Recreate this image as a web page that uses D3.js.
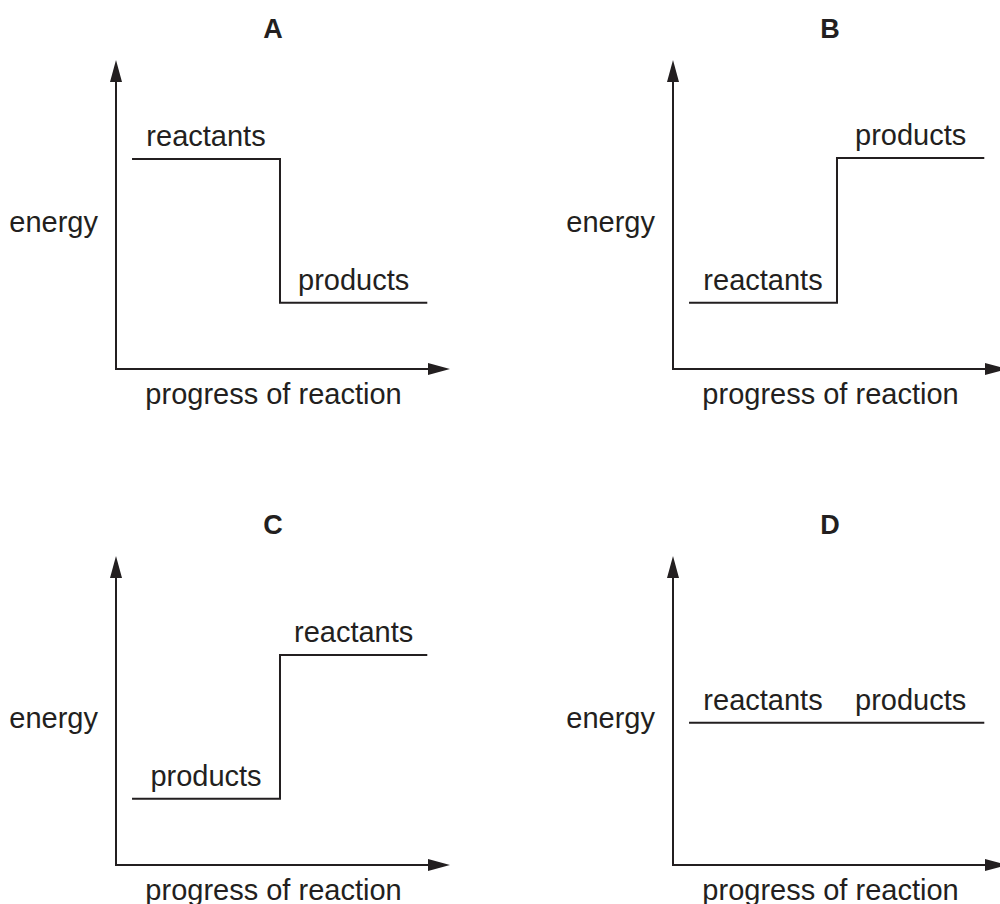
<!DOCTYPE html>
<html>
<head>
<meta charset="utf-8">
<script src="https://cdnjs.cloudflare.com/ajax/libs/d3/7.8.5/d3.min.js"></script>
<style>
    html, body { margin: 0; padding: 0; background: #fff; }
    svg text { font-family: "Liberation Sans", Arial, Helvetica, sans-serif; fill: #231f20; }
</style>
</head>
<body>
<svg id="chart" width="1000" height="904"></svg>
<script>
// Panels, in reading order
var panels = ["A", "B", "C", "D"];

// Left and right segment of each energy profile
var leftLabels  = ["reactants", "reactants", "products", "reactants"];
var rightLabels = ["products", "products", "reactants", "products"];

// Energy levels (fraction of axis height)
var leftEnergy  = [0.68, 0.214, 0.214, 0.46];
var rightEnergy = [0.214, 0.683, 0.68, 0.46];

// Progress of reaction (fraction of axis length)
var levelStart = 0.048;
var stepAt = 0.491;
var levelEnd = 0.932;

var axisLabelX = "progress of reaction";
var axisLabelY = "energy";

var ink = "#231f20";

var svg = d3.select("#chart");

// Origin of each panel's axes
var colX = [116, 673];
var rowY = [369, 865];

// Shared scales, relative to the panel origin
var x = d3.scaleLinear().domain([0, 1]).range([0, 334]);
var y = d3.scaleLinear().domain([0, 1]).range([0, -309]);

var arrowLen = 22;
var arrowHalf = 6;

panels.forEach(function(name, i) {
    var g = svg.append("g")
        .attr("transform", "translate(" + colX[i % 2] + "," + rowY[Math.floor(i / 2)] + ")");

    // Axes
    g.append("path")
        .attr("d", "M" + x(0) + "," + (y(1) + arrowLen) +
            "L" + x(0) + "," + y(0) +
            "L" + (x(1) - arrowLen) + "," + y(0))
        .attr("fill", "none")
        .attr("stroke", ink)
        .attr("stroke-width", 2)
        .attr("stroke-linejoin", "miter");

    // Arrow heads
    g.append("path")
        .attr("d", "M" + x(0) + "," + y(1) +
            "L" + (x(0) + arrowHalf) + "," + (y(1) + arrowLen) +
            "L" + (x(0) - arrowHalf) + "," + (y(1) + arrowLen) + "Z")
        .attr("fill", ink);
    g.append("path")
        .attr("d", "M" + x(1) + "," + y(0) +
            "L" + (x(1) - arrowLen) + "," + (y(0) - arrowHalf) +
            "L" + (x(1) - arrowLen) + "," + (y(0) + arrowHalf) + "Z")
        .attr("fill", ink);

    // Energy level line: left level -> step -> right level
    var l = leftEnergy[i];
    var r = rightEnergy[i];
    g.append("path")
        .attr("d", "M" + x(levelStart) + "," + y(l) +
            "H" + x(stepAt) +
            "V" + y(r) +
            "H" + x(levelEnd))
        .attr("fill", "none")
        .attr("stroke", ink)
        .attr("stroke-width", 2)
        .attr("stroke-linejoin", "miter");

    // Level labels, centred above their segment
    g.append("text")
        .attr("x", x((levelStart + stepAt) / 2))
        .attr("y", y(l) - 13)
        .attr("text-anchor", "middle")
        .attr("font-size", 29)
        .text(leftLabels[i]);
    g.append("text")
        .attr("x", x((stepAt + levelEnd) / 2))
        .attr("y", y(r) - 13)
        .attr("text-anchor", "middle")
        .attr("font-size", 29)
        .text(rightLabels[i]);

    // Titles and axis labels
    g.append("text")
        .attr("x", 157)
        .attr("y", y(1) - 22)
        .attr("text-anchor", "middle")
        .attr("font-size", 27)
        .attr("font-weight", "bold")
        .text(name);

    g.append("text")
        .attr("x", -18)
        .attr("y", -137)
        .attr("text-anchor", "end")
        .attr("font-size", 29)
        .text(axisLabelY);

    g.append("text")
        .attr("x", 157.5)
        .attr("y", 35)
        .attr("text-anchor", "middle")
        .attr("font-size", 29)
        .text(axisLabelX);
});
</script>
</body>
</html>
